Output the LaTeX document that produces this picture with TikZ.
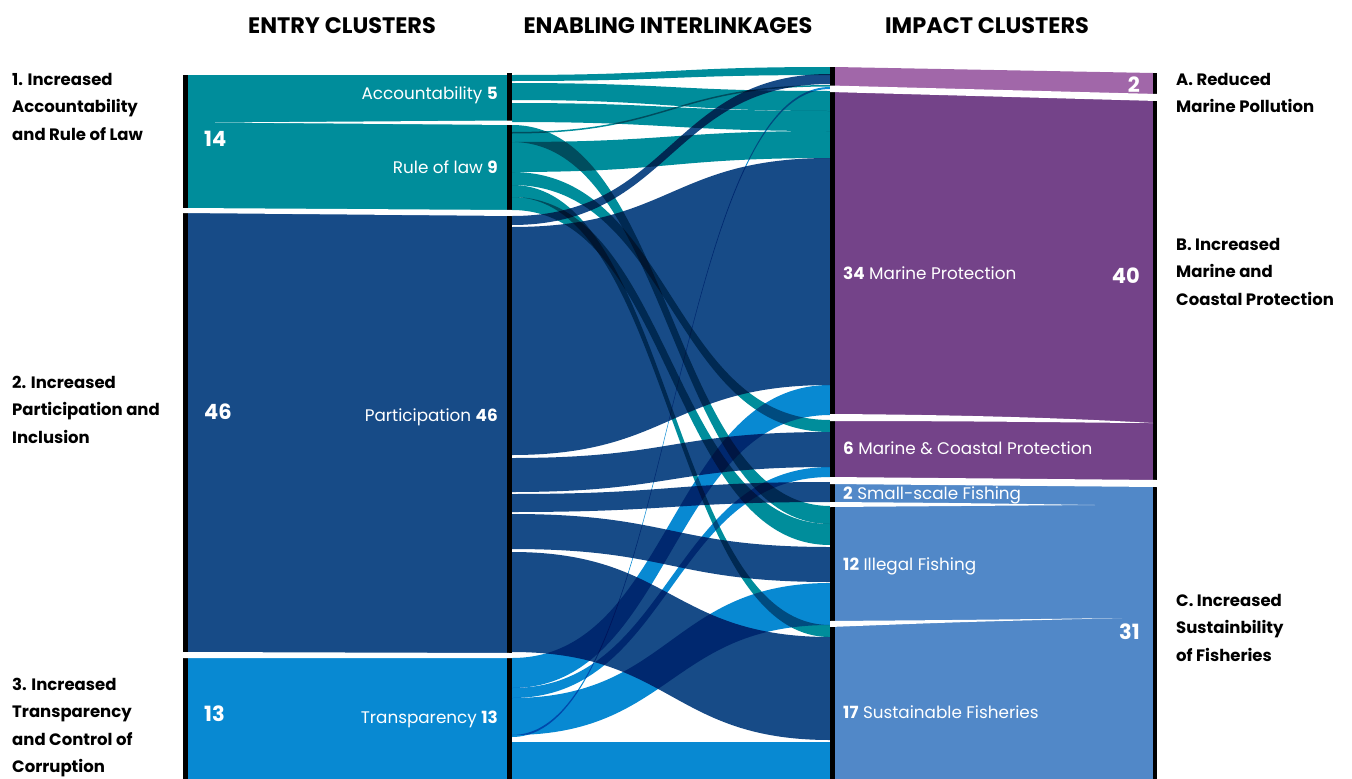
\documentclass[tikz,border=0pt]{standalone}
\usepackage{fontspec}
\setmainfont{Poppins}
\definecolor{clTeal}{RGB}{0,141,155}
\definecolor{clNavy}{RGB}{23,75,135}
\definecolor{clSky}{RGB}{8,137,210}
\definecolor{clLilac}{RGB}{161,103,169}
\definecolor{clPlum}{RGB}{116,67,137}
\definecolor{clSteel}{RGB}{81,136,200}

\begin{document}
\begin{tikzpicture}[
    x=1pt, y=-1pt,
    head/.style={anchor=base, inner sep=0pt, font=\fontsize{22.4}{26}\selectfont\bfseries},
    side/.style={anchor=base west, inner sep=0pt, font=\fontsize{16.5}{19}\selectfont\bfseries},
    tag/.style={inner sep=0pt, text=white, font=\fontsize{16.8}{19}\selectfont},
    total/.style={inner sep=0pt, text=white, font=\fontsize{21}{25}\selectfont\bfseries},
    gap/.style={fill=white},
    bar/.style={fill=black}
  ]
  \useasboundingbox (0,0) rectangle (1352,779);

  \node[head] (hEntry) at (342,33) {ENTRY CLUSTERS};
  \node[head] (hLink) at (668,33) {ENABLING INTERLINKAGES};
  \node[head] (hImpact) at (987,33) {IMPACT CLUSTERS};

  % entry clusters
  \fill[clTeal] (186,75) rectangle (507,210);
  \fill[clNavy] (186,210) rectangle (507,655);
  \fill[clSky] (186,655) rectangle (507,779);

  % impact clusters
  \fill[clLilac] (835,67) -- (1153,73) -- (1153,97) -- (835,90) -- cycle;
  \fill[clPlum] (835,90) -- (1153,97) -- (1153,484) -- (835,481) -- cycle;
  \fill[clSteel] (835,481) rectangle (1153,779);

  % interlinkages
  \begin{scope}[blend mode=multiply]
    \foreach \Lt/\Lb/\Rt/\Rb/\Col in {
        75/81/67/75/clTeal, 83/100/91/111/clTeal, 103/122/111/131/clTeal,
        142/172/131/158/clTeal, 125/142/506/524/clTeal, 172/185/420/432/clTeal,
        185/197/625/637/clTeal, 197/210/524/545/clTeal, 132/133.5/85/86.5/clTeal,
        216/225/74/84/clNavy, 227/455/158/385/clNavy, 458/492/432/467/clNavy,
        494/512/482/502/clNavy, 514/549/547/582/clNavy, 552/652/637/740/clNavy,
        658/688/385/415/clSky, 688/698/467/477/clSky, 698/735/583/625/clSky,
        742/782/742/782/clSky, 735/737/87/89/clSky}
      \fill[\Col] (512,\Lt) .. controls (671,\Lt) and (671,\Rt) .. (830,\Rt)
        -- (830,\Rb) .. controls (671,\Rb) and (671,\Lb) .. (512,\Lb) -- cycle;
  \end{scope}

  \fill[bar] (183,75) rectangle (188,779);
  \fill[bar] (507,73) rectangle (512,779);
  \fill[bar] (830,67) rectangle (835,779);
  \fill[bar] (1153,73) rectangle (1157,779);

  \fill[gap] (215,122.5) -- (512,120.5) -- (512,125) -- cycle;
  \fill[gap] (183,208) -- (512,210) -- (512,216) -- (183,213) -- cycle;
  \fill[gap] (183,652) -- (512,653) -- (512,658) -- (183,658) -- cycle;
  \fill[gap] (830,85.5) -- (1157,94) -- (1157,101) -- (830,92) -- cycle;
  \fill[gap] (830,414) .. controls (1000,415) and (1100,420) .. (1153,423)
    .. controls (1100,423) and (1000,421) .. (830,421) -- cycle;
  \fill[gap] (830,477) -- (1157,480) -- (1157,487) -- (830,484) -- cycle;
  \fill[gap] (830,502) .. controls (960,503) .. (1095,505)
    .. controls (960,506) .. (830,507) -- cycle;
  \fill[gap] (830,621) .. controls (960,620) .. (1122,618)
    .. controls (960,622) .. (830,627) -- cycle;

  \node[total, anchor=base west] (n14) at (204,146) {14};
  \node[total, anchor=base west] (n46) at (204,419) {46};
  \node[total, anchor=base west] (n13) at (204,721) {13};
  \node[tag, anchor=base east] (tAcc) at (498,99) {Accountability \textbf{5}};
  \node[tag, anchor=base east] (tRol) at (498,173) {Rule of law \textbf{9}};
  \node[tag, anchor=base east] (tPar) at (498,421) {Participation \textbf{46}};
  \node[tag, anchor=base east] (tTra) at (498,723) {Transparency \textbf{13}};

  \node[total, anchor=base east] (n2) at (1140,92) {2};
  \node[total, anchor=base east] (n40) at (1140,283) {40};
  \node[total, anchor=base east] (n31) at (1140,639) {31};
  \node[tag, anchor=base west] (tMpro) at (843,279) {\textbf{34} Marine Protection};
  \node[tag, anchor=base west] (tMcp) at (843,454) {\textbf{6} Marine \& Coastal Protection};
  \node[tag, anchor=base west] (tSsf) at (843,499) {\textbf{2} Small-scale Fishing};
  \node[tag, anchor=base west] (tIf) at (843,570) {\textbf{12} Illegal Fishing};
  \node[tag, anchor=base west] (tSf) at (843,718) {\textbf{17} Sustainable Fisheries};

  \foreach \Base/\Lines [count=\k] in {85/{1. Increased,Accountability,and Rule of Law},
      388/{2. Increased,Participation and,Inclusion},
      690/{3. Increased,Transparency,and Control of,Corruption}}
    \foreach \Line [count=\i] in \Lines
      \node[side] (entry\k-\i) at (12,\Base+27.5*\i-27.5) {\Line};

  \foreach \Base/\Lines [count=\k] in {85/{A. Reduced,Marine Pollution},
      250/{B. Increased,Marine and,Coastal Protection},
      606/{C. Increased,Sustainbility,of Fisheries}}
    \foreach \Line [count=\i] in \Lines
      \node[side] (impact\k-\i) at (1176,\Base+27.5*\i-27.5) {\Line};
\end{tikzpicture}
\end{document}
